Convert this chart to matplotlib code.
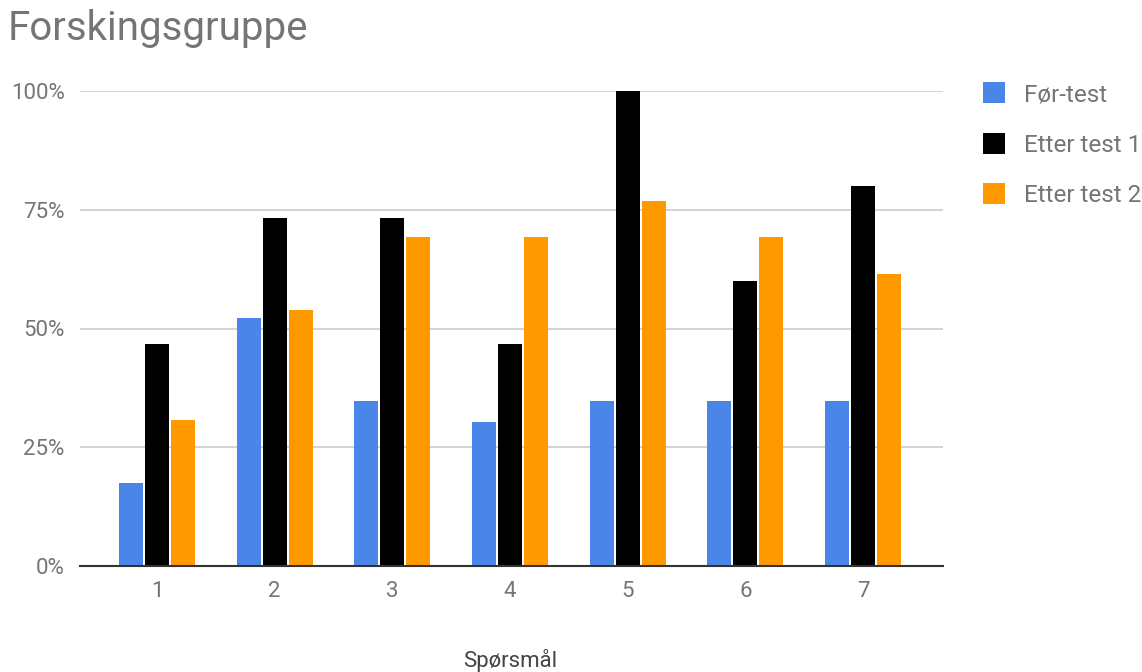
import numpy as np
import matplotlib.pyplot as plt
from matplotlib.ticker import PercentFormatter

plt.rcParams['font.family'] = ['Roboto', 'DejaVu Sans']

questions = ["1", "2", "3", "4", "5", "6", "7"]
series = ["Før-test", "Etter test 1", "Etter test 2"]
for_test = [0.174, 0.522, 0.348, 0.304, 0.348, 0.348, 0.348]
etter_1 = [0.467, 0.733, 0.733, 0.467, 1.0, 0.60, 0.80]
etter_2 = [0.308, 0.538, 0.692, 0.692, 0.769, 0.692, 0.615]
colors = ["#4a86e8", "#000000", "#ff9900"]

grey = "#757575"

fig = plt.figure(figsize=(11.42, 6.72), dpi=100)
ax = fig.add_axes([80 / 1142, 1 - 566 / 672, 863 / 1142, 475 / 672])

x = np.arange(len(questions))
width = 0.204
step = 0.221
for i, (vals, col, name) in enumerate(zip([for_test, etter_1, etter_2], colors, series)):
    ax.bar(x + (i - 1) * step, vals, width=width, color=col, label=name, zorder=3)

ax.set_xlim(-0.655, 6.68)
ax.set_ylim(0, 1.0)
ax.set_yticks([0, 0.25, 0.5, 0.75, 1.0])
ax.yaxis.set_major_formatter(PercentFormatter(1.0, decimals=0))
ax.set_xticks(x)
ax.set_xticklabels(questions)
ax.grid(axis='y', color="#cccccc", linewidth=1.2, zorder=0)
ax.set_axisbelow(True)
for s in ["top", "right", "left"]:
    ax.spines[s].set_visible(False)
ax.spines["bottom"].set_color("#333333")
ax.spines["bottom"].set_linewidth(1.5)
ax.spines["bottom"].set_zorder(4)
ax.tick_params(axis='both', length=0, labelsize=16, labelcolor=grey)
ax.tick_params(axis='y', pad=11)
ax.tick_params(axis='x', pad=11)

fig.text(510 / 1142, 1 - 660 / 672, "Spørsmål", fontsize=16, color="#444444",
         ha='center', va='center')
fig.text(8 / 1142, 1 - 29 / 672, "Forskingsgruppe", fontsize=29, color=grey,
         va='center', ha='left')

ax.legend(loc='upper left', bbox_to_anchor=(1.046, 1.018), frameon=False,
          fontsize=17.5, labelcolor=grey, handlelength=0.93, handleheight=0.93,
          labelspacing=1.1, handletextpad=0.75, borderaxespad=0, borderpad=0)

fig.savefig("out.png", dpi=100)
